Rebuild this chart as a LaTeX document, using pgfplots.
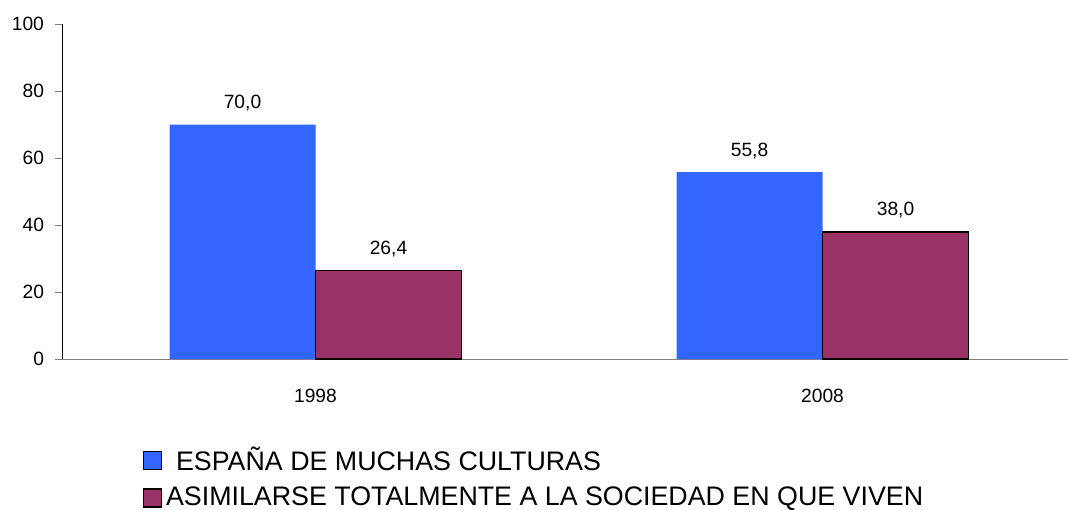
\documentclass[border=0pt]{standalone}
\usepackage{fontspec}
\setmainfont{Liberation Sans}
\usepackage{pgfplots}
\pgfplotsset{compat=1.18}
\definecolor{barblue}{HTML}{3366FF}
\definecolor{barmaroon}{HTML}{993366}
\begin{document}
\begin{tikzpicture}
\useasboundingbox (-31pt,-75pt) rectangle (503pt,179.5pt);
\begin{axis}[
    at={(0,0)}, anchor=south west,
    width=507pt, height=167.5pt,
    scale only axis,
    ybar=0,
    bar width=73pt,
    ymin=0, ymax=100,
    ytick={0,20,40,60,80,100},
    xmin=-0.5, xmax=1.5,
    xtick={0,1},
    xticklabels={1998,2008},
    x tick style={draw=none},
    extra x ticks={-0.5,0.5,1.5},
    extra x tick labels={},
    extra x tick style={tick style={draw=gray}},
    major tick length=3.5pt,
    axis lines=left,
    axis line style={-},
    x axis line style={draw=gray},
    y axis line style={draw=black},
    tick align=outside,
    ytick style={draw=gray},
    tick label style={font=\fontsize{9.6}{11}\selectfont},
    yticklabel style={xshift=-2pt},
    xticklabel style={yshift=-8pt},
    /pgf/number format/assume math mode=true,
    nodes near coords={\pgfmathprintnumber[fixed,fixed zerofill,precision=1,use comma]{\pgfplotspointmeta}},
    every node near coord/.append style={font=\fontsize{9.6}{11}\selectfont, black, yshift=3pt},
    legend cell align=left,
    legend style={at={(0.079,0)}, anchor=north west, yshift=-42pt, draw=none,
        font=\fontsize{13.4}{14}\selectfont, row sep=2.5pt, inner sep=0pt},
    legend image code/.code={\draw[#1] (0pt,-4.5pt) rectangle (9pt,4.5pt);},
    clip=false,
]
\addplot[fill=barblue, draw=none] coordinates {(0,70.0) (1,55.8)};
\addplot[fill=barmaroon, draw=black, line width=0.8pt] coordinates {(0,26.4) (1,38.0)};
\legend{\hspace{5pt}ESPAÑA DE MUCHAS CULTURAS, ASIMILARSE TOTALMENTE A LA SOCIEDAD EN QUE VIVEN}
\end{axis}
\end{tikzpicture}
\end{document}
